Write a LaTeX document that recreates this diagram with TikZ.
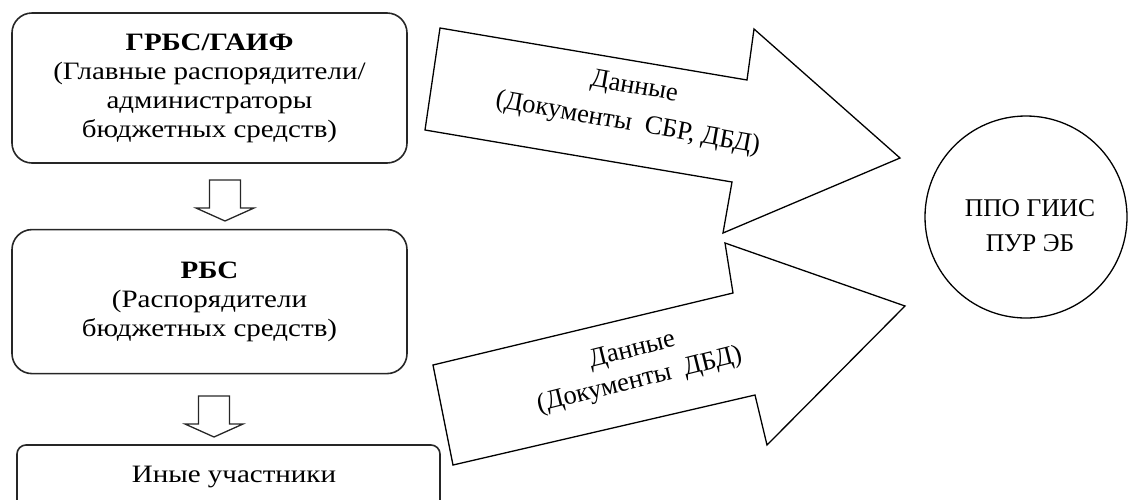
\documentclass[tikz,border=0pt]{standalone}
\usepackage{fontspec}
\setmainfont{Liberation Serif}
\newfontfamily\wideserif[FakeStretch=1.16]{Liberation Serif}
\usetikzlibrary{positioning}
\tikzset{
  box/.style = {draw=black!85, rounded corners=20pt, line width=1.6pt,
    minimum width=395pt, align=center, inner sep=0pt,
    font=\wideserif\fontsize{25}{29}\selectfont},% rounded block
  txt/.style = {align=center, inner sep=0pt, font=\fontsize{26.5}{31}\selectfont},
  bigarr/.style = {draw=black, line width=1.3pt, line join=miter},% wide data arrow
  downarr/.pic = {\draw[black!85, line width=1.3pt]
    (-15.5,0) -- (15.5,0) -- (15.5,28) -- (29,28) -- (0,41) -- (-29,28)
    -- (-15.5,28) -- cycle;}
}
\begin{document}
\begin{tikzpicture}[x=1pt,y=-1pt]
\useasboundingbox (0,0) rectangle (1129,499);
\clip (0,0) rectangle (1129,499);
% participants
\node (grbs) [box, minimum height=150pt] at (209.5,88)
  {\textbf{ГРБС/ГАИФ}\\(Главные распорядители/\\администраторы\\бюджетных средств)};
\node (rbs) [box, minimum height=144pt, below=65pt of grbs]
  {\textbf{РБС}\\(Распорядители\\бюджетных средств)};
\node (other) [box, rounded corners=9pt, minimum width=423pt, minimum height=110pt]
  at (228.5,500) {};
\node (othertxt) [box, draw=none] at (234,477) {Иные участники};
\pic at (225,180) {downarr};
\pic at (214,396) {downarr};
% system
\node (ppo) [draw, circle, line width=1.3pt, minimum size=202pt] at (1026,217) {};
\node (ppotxt) [txt, font=\fontsize{25.5}{35}\selectfont] at (1030,226)
  {ППО ГИИС\\ПУР ЭБ};
% data arrows
\draw[bigarr] (440,28) -- (747,80) -- (754,29) -- (900,158) -- (723,233)
  -- (732,182) -- (425,130) -- cycle;
\draw[bigarr] (433,365) -- (733,293) -- (725,243) -- (905,306) -- (767,445)
  -- (755,395) -- (453,465) -- cycle;
\node (data1) [txt, rotate=-10] at (631,106)
  {Данные\\[6pt](Документы\ \ СБР, ДБД)};
\node (data2) [txt, rotate=14] at (636,366)
  {Данные\\(Документы\ \ ДБД)};
\end{tikzpicture}
\end{document}
